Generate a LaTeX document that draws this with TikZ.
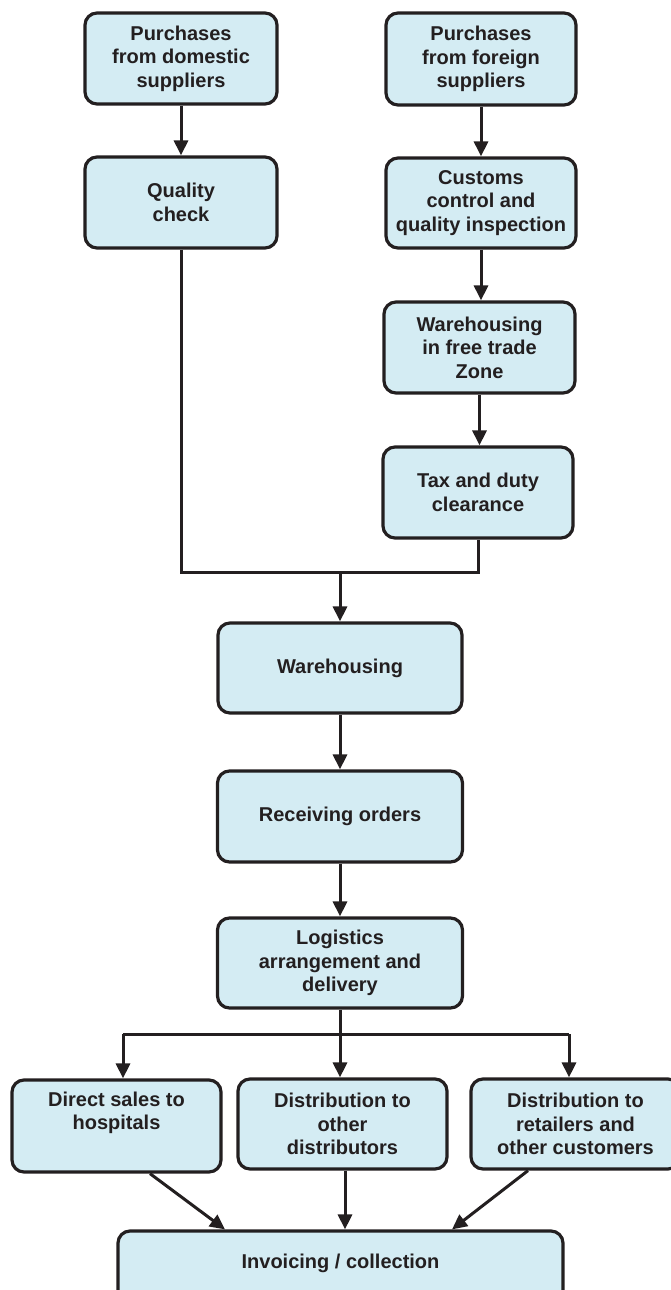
\documentclass[tikz,border=0pt]{standalone}
\usepackage{fontspec}
\setmainfont{Liberation Sans}
\usetikzlibrary{arrows.meta}
\definecolor{boxfill}{HTML}{D4ECF3}
\definecolor{ink}{HTML}{231F20}
\tikzset{
  flowbox/.style={draw=ink, fill=boxfill, line width=3.2pt, rounded corners=12pt,
    inner sep=0pt, align=center, text=ink,
    font=\fontsize{20pt}{23.5pt}\selectfont\bfseries},
  arr/.style={draw=ink, line width=3pt, -{Triangle[length=15pt,width=14pt]}},
  ln/.style={draw=ink, line width=3pt}
}
\begin{document}
\begin{tikzpicture}[x=1pt,y=-1pt]
\useasboundingbox (0,0) rectangle (670,1290);
% top row
\node[flowbox, minimum width=192pt, minimum height=91pt] (dom) at (181,58.5) {Purchases\\from domestic\\suppliers};
\node[flowbox, minimum width=192pt, minimum height=91pt] (qc) at (181,202.5) {Quality\\check};
\node[flowbox, minimum width=190pt, minimum height=92pt] (for) at (481,59) {Purchases\\from foreign\\suppliers};
\node[flowbox, minimum width=190pt, minimum height=90pt] (cus) at (481,203) {Customs\\control and\\quality inspection};
\node[flowbox, minimum width=191pt, minimum height=91pt] (ftz) at (479.5,347.5) {Warehousing\\in free trade\\Zone};
\node[flowbox, minimum width=190pt, minimum height=91pt] (tax) at (478,492.5) {Tax and duty\\clearance};
% middle column
\node[flowbox, minimum width=244pt, minimum height=90pt] (wh) at (340,668) {Warehousing};
\node[flowbox, minimum width=245pt, minimum height=91pt] (rec) at (340,816.5) {Receiving orders};
\node[flowbox, minimum width=245pt, minimum height=90pt] (log) at (340,963) {Logistics\\arrangement and\\delivery};
% bottom row
\node[flowbox, minimum width=209pt, minimum height=92pt] (ds) at (116.5,1126) {Direct sales to\\hospitals\\\strut};
\node[flowbox, minimum width=209pt, minimum height=90pt] (dd) at (342.5,1124) {Distribution to\\other\\distributors};
\node[flowbox, minimum width=209pt, minimum height=90pt] (dr) at (575.5,1124) {Distribution to\\retailers and\\other customers};
\node[flowbox, minimum width=445pt, minimum height=92pt] (inv) at (340.5,1277) {Invoicing / collection\\\strut};
% coordinates
\coordinate (m) at (340,572);
\coordinate (s) at (340,1034);
\coordinate (sl) at (123,1034);
\coordinate (sr) at (569,1034);
% connectors
\draw[arr] (dom.south) -- (qc.north);
\draw[arr] (for.south) -- (cus.north);
\draw[arr] (cus.south) -- (cus.south |- ftz.north);
\draw[arr] (ftz.south) -- (ftz.south |- tax.north);
\draw[ln] (qc.south) |- (tax.south |- m) -- (tax.south);
\draw[arr] (m) -- (m |- wh.north);
\draw[arr] (wh.south) -- (rec.north);
\draw[arr] (rec.south) -- (log.north);
\draw[ln] (log.south) -- (s);
\draw[ln] (sl) -- (sr);
\draw[arr] (sl) -- (sl |- ds.north);
\draw[arr] (s) -- (s |- dd.north);
\draw[arr] (sr) -- (sr |- dr.north);
\draw[arr] ([xshift=33.5pt]ds.south) -- ([xshift=-115.5pt]inv.north);
\draw[arr] (dd.south -| 345,0) -- ([xshift=4.5pt]inv.north);
\draw[arr] ([xshift=-47.5pt]dr.south) -- ([xshift=111.5pt]inv.north);
\end{tikzpicture}
\end{document}
